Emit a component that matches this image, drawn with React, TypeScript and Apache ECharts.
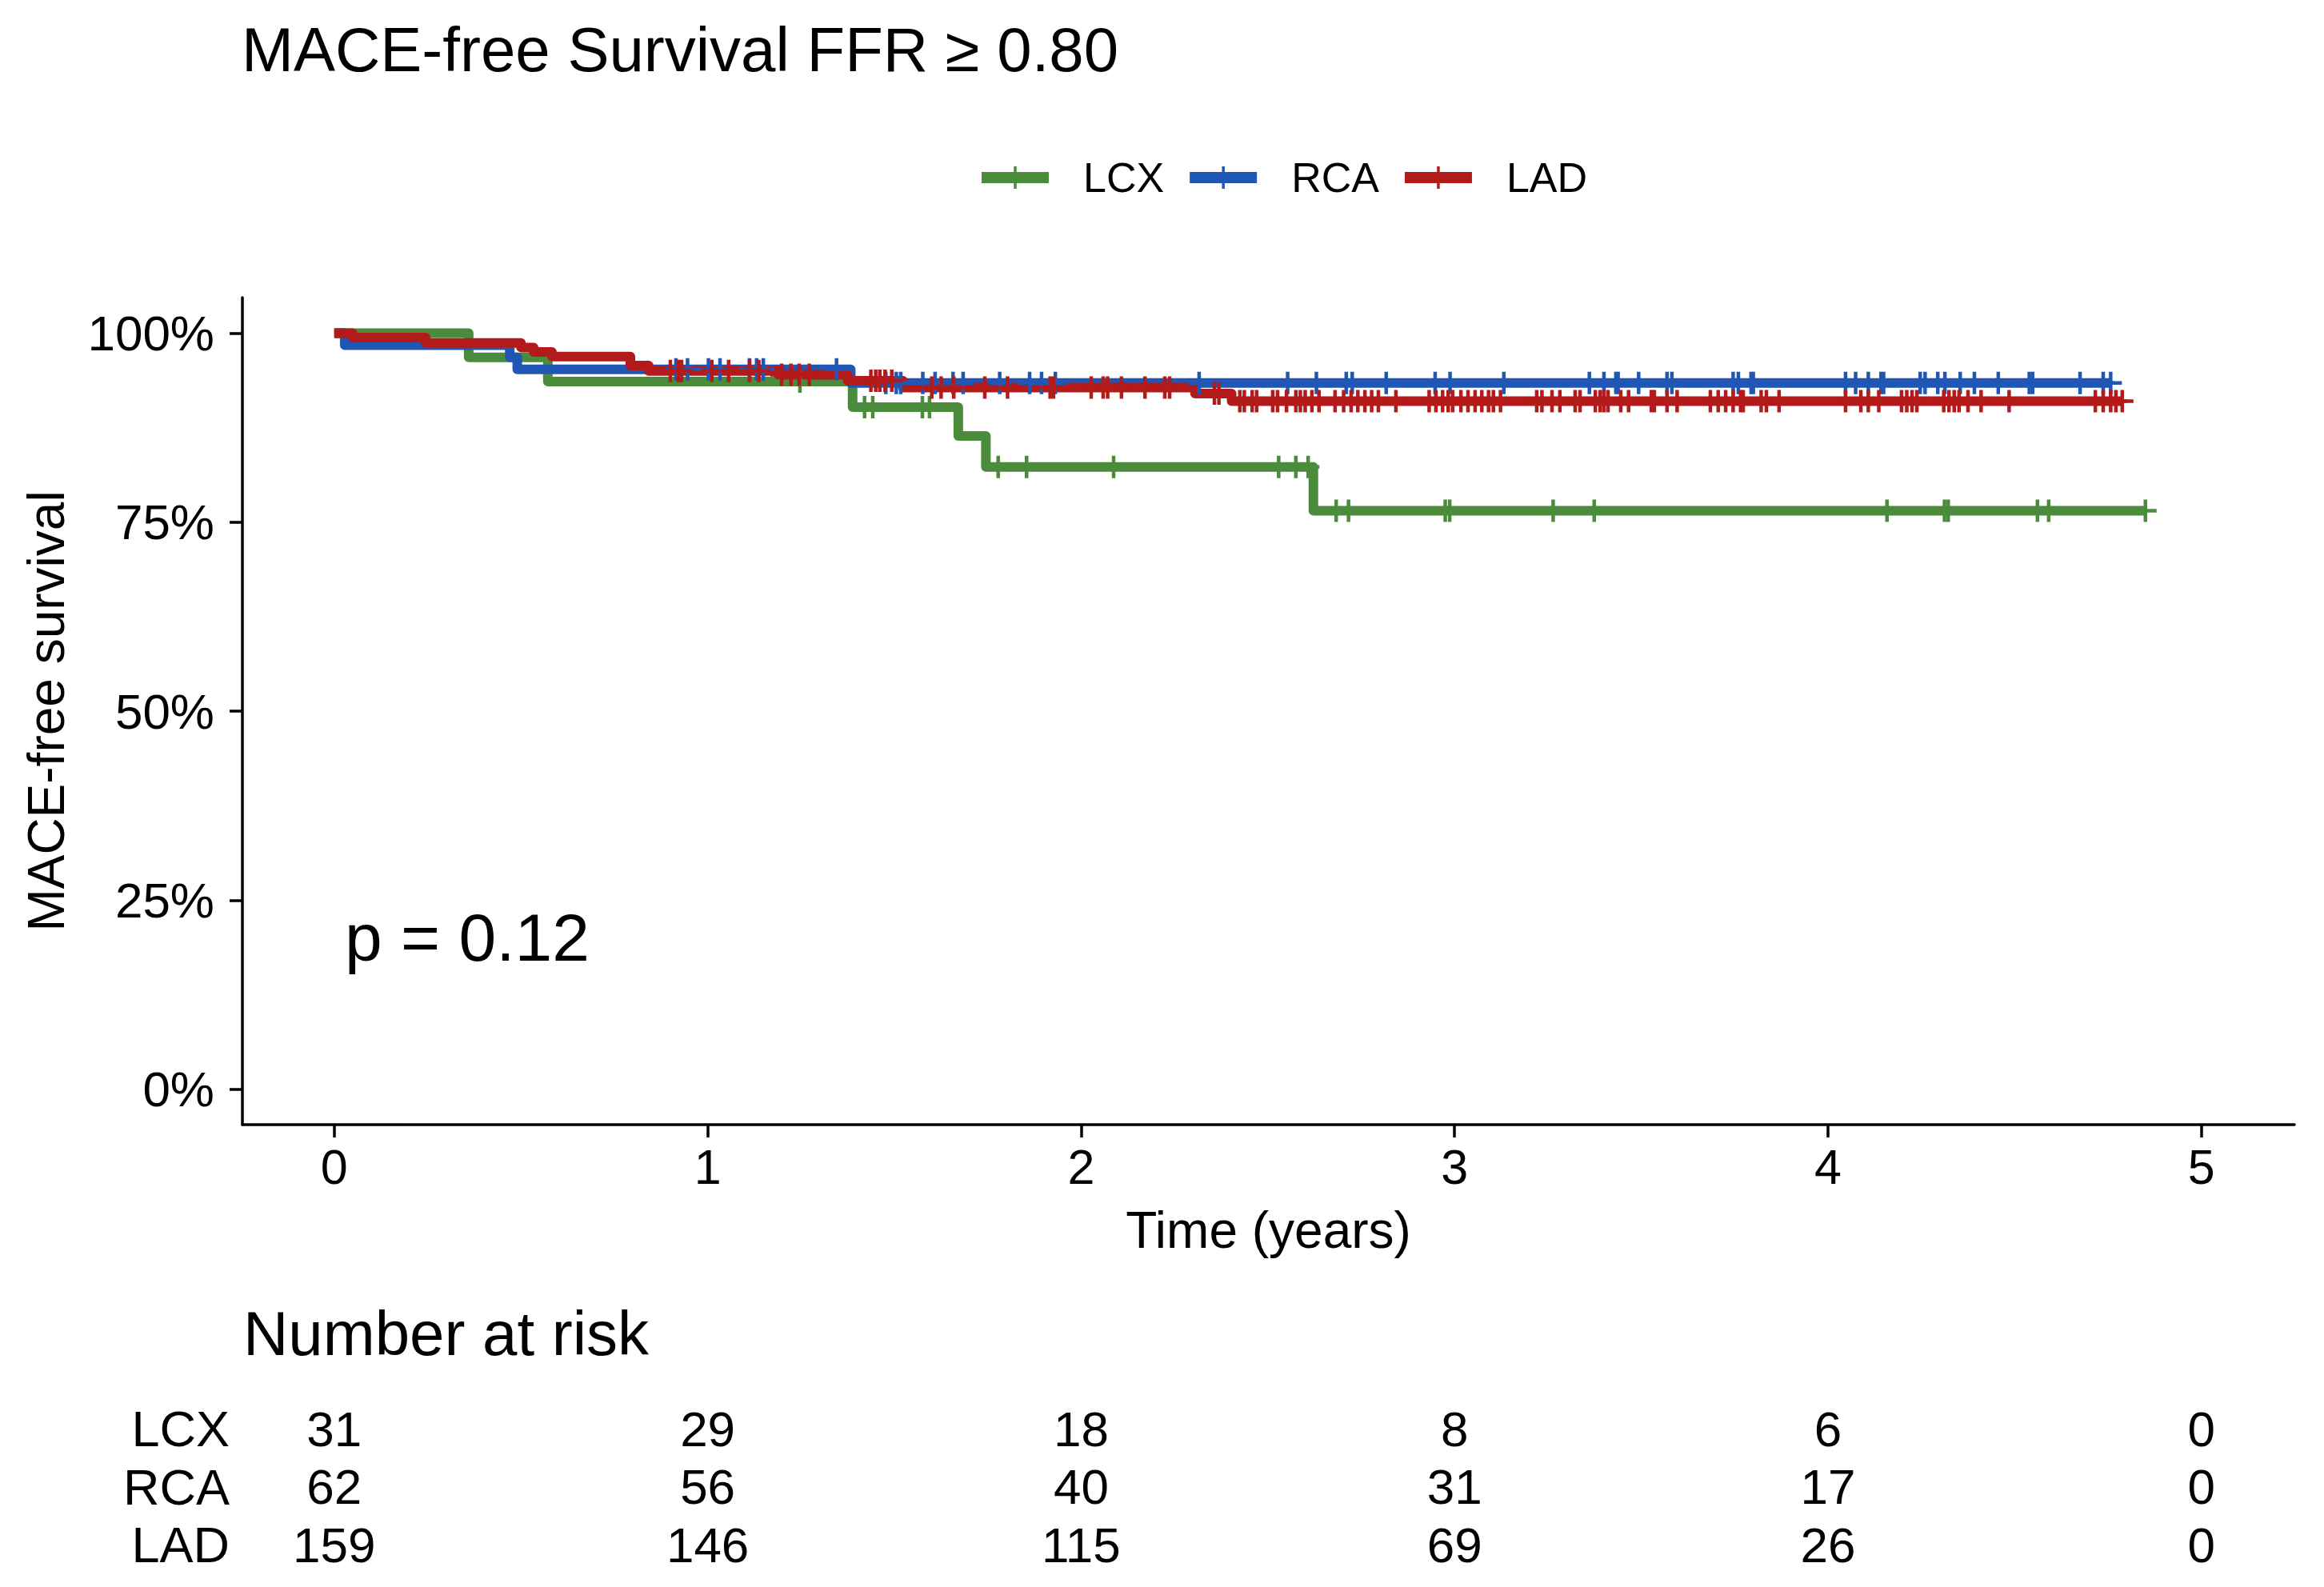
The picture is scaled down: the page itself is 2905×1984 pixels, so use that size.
import React, { useEffect, useRef } from "react";
import * as echarts from "echarts";

const FONT = '"Liberation Sans", Arial, Helvetica, sans-serif';

const GROUPS = ["LCX", "RCA", "LAD"];
const COLORS = ["#4A8C3B", "#2057B5", "#B31B1B"];

// Kaplan-Meier step curves (time in years, survival proportion)
const lcxTimes = [0, 0.36, 0.572, 1.388, 1.671, 1.745, 2.622, 4.85];
const lcxSurv = [1, 0.968, 0.936, 0.902, 0.864, 0.823, 0.765, 0.765];
const rcaTimes = [0, 0.028, 0.47, 0.49, 1.383, 4.757];
const rcaSurv = [1, 0.984, 0.968, 0.952, 0.934, 0.934];
const ladTimes = [0, 0.049, 0.245, 0.5, 0.534, 0.583, 0.793, 0.842, 1.19, 1.375, 1.523, 2.305, 2.403, 4.788];
const ladSurv = [1, 0.994, 0.987, 0.981, 0.975, 0.969, 0.957, 0.95, 0.945, 0.937, 0.928, 0.92, 0.91, 0.91];

// censoring times
const lcxCensor = [1.247, 1.42, 1.442, 1.575, 1.594, 1.778, 1.854, 2.087, 2.529, 2.575, 2.608, 2.683, 2.716, 2.975, 2.987, 3.264, 3.374, 4.158, 4.312, 4.322, 4.561, 4.591, 4.85];
const rcaCensor = [0.915, 0.946, 1.002, 1.033, 1.112, 1.131, 1.149, 1.345, 1.477, 1.505, 1.517, 1.576, 1.609, 1.657, 1.684, 1.782, 1.862, 1.894, 1.931, 2.316, 2.553, 2.63, 2.71, 2.726, 2.817, 2.948, 2.988, 3.132, 3.361, 3.4, 3.432, 3.438, 3.493, 3.569, 3.582, 3.746, 3.76, 3.794, 3.8, 4.047, 4.074, 4.108, 4.142, 4.149, 4.247, 4.26, 4.294, 4.313, 4.354, 4.392, 4.456, 4.539, 4.548, 4.675, 4.737, 4.757];
const ladCensor = [0.9, 0.921, 0.93, 1.011, 1.056, 1.112, 1.137, 1.198, 1.223, 1.245, 1.272, 1.437, 1.45, 1.461, 1.475, 1.493, 1.6, 1.625, 1.659, 1.742, 1.803, 1.917, 1.926, 2.027, 2.059, 2.071, 2.108, 2.171, 2.224, 2.237, 2.357, 2.369, 2.425, 2.437, 2.458, 2.47, 2.513, 2.526, 2.55, 2.575, 2.587, 2.6, 2.618, 2.637, 2.68, 2.703, 2.723, 2.741, 2.76, 2.778, 2.796, 2.843, 2.932, 2.95, 2.968, 2.983, 2.995, 3.017, 3.036, 3.055, 3.073, 3.091, 3.104, 3.123, 3.22, 3.234, 3.261, 3.282, 3.323, 3.336, 3.377, 3.39, 3.4, 3.411, 3.445, 3.466, 3.527, 3.535, 3.569, 3.596, 3.685, 3.706, 3.726, 3.746, 3.766, 3.773, 3.821, 3.835, 3.869, 4.047, 4.088, 4.108, 4.136, 4.197, 4.211, 4.225, 4.238, 4.31, 4.324, 4.338, 4.351, 4.375, 4.41, 4.485, 4.716, 4.737, 4.757, 4.771, 4.788];

// number at risk table
const riskTimes = [0, 1, 2, 3, 4, 5];
const lcxRisk = [31, 29, 18, 8, 6, 0];
const rcaRisk = [62, 56, 40, 31, 17, 0];
const ladRisk = [159, 146, 115, 69, 26, 0];

const xTicks = [0, 1, 2, 3, 4, 5];
const yTicks = [0, 0.25, 0.5, 0.75, 1];

const X_MIN = -0.246;
const X_MAX = 5.249;
const Y_MIN = -0.047;
const Y_MAX = 1.047;

const PLUS = "path://M0,11.75h28v4.5h-28z M11.75,0h4.5v28h-4.5z";
const LEG_ICON = "path://M0,7h84v14h-84z M40.25,0h3.5v28h-3.5z";

function survAt(times: number[], surv: number[], t: number): number {
  let s = surv[0];
  for (let i = 0; i < times.length; i++) {
    if (times[i] <= t) s = surv[i];
  }
  return s;
}

export default function App() {
  const ref = useRef<HTMLDivElement>(null);

  useEffect(() => {
    if (!ref.current) return;
    const chart = echarts.init(ref.current, undefined, { renderer: "svg" });

    const curves = [
      { times: lcxTimes, surv: lcxSurv, censor: lcxCensor },
      { times: rcaTimes, surv: rcaSurv, censor: rcaCensor },
      { times: ladTimes, surv: ladSurv, censor: ladCensor },
    ];
    const risks = [lcxRisk, rcaRisk, ladRisk];

    const lineSeries = curves.map((c, i) => ({
      type: "line",
      name: GROUPS[i],
      xAxisIndex: 0,
      yAxisIndex: 0,
      step: "end",
      symbol: "none",
      showSymbol: false,
      data: c.times.map((t, j) => [t, c.surv[j]]),
      lineStyle: { width: 12, color: COLORS[i], join: "round", cap: "butt" },
      itemStyle: { color: COLORS[i] },
      z: 2,
      silent: true,
    }));

    const censorSeries = curves.map((c, i) => ({
      type: "scatter",
      name: GROUPS[i] + " censored",
      xAxisIndex: 0,
      yAxisIndex: 0,
      symbol: PLUS,
      symbolSize: 28,
      data: c.censor.map((t) => [t, survAt(c.times, c.surv, t)]),
      itemStyle: { color: COLORS[i], opacity: 1 },
      z: 3,
      silent: true,
    }));

    const riskData: any[] = [];
    risks.forEach((r, gi) => {
      r.forEach((n, ti) => riskData.push([riskTimes[ti], gi, n]));
    });

    const riskSeries = {
      type: "scatter",
      name: "risk",
      xAxisIndex: 1,
      yAxisIndex: 1,
      symbolSize: 1,
      itemStyle: { color: "rgba(0,0,0,0)", opacity: 1 },
      data: riskData,
      label: {
        show: true,
        position: "inside",
        formatter: (p: any) => String(p.value[2]),
        fontSize: 62,
        fontFamily: FONT,
        color: "#000",
        opacity: 1,
      },
      silent: true,
    };

    const option: any = {
      animation: false,
      backgroundColor: "#fff",
      textStyle: { fontFamily: FONT },
      legend: {
        data: GROUPS.map((g) => ({ name: g, icon: LEG_ICON })),
        left: 1222,
        top: 187,
        itemWidth: 84,
        itemHeight: 28,
        itemGap: 32,
        selectedMode: false,
        itemStyle: { borderWidth: 0 },
        lineStyle: { width: 0 },
        textStyle: {
          fontSize: 52,
          color: "#000",
          fontFamily: FONT,
          padding: [0, 0, 0, 38],
          lineHeight: 60,
        },
      },
      grid: [
        { left: 303, top: 372, width: 2565, height: 1034 },
        { left: 303, top: 1749.75, width: 2565, height: 217.5 },
      ],
      xAxis: [
        {
          type: "value",
          gridIndex: 0,
          min: X_MIN,
          max: X_MAX,
          axisLine: { show: true, onZero: false, lineStyle: { color: "#000", width: 3.5 } },
          axisTick: { show: true, length: 16, customValues: xTicks, lineStyle: { color: "#000", width: 3.5 } },
          axisLabel: { show: true, customValues: xTicks, fontSize: 61, color: "#000", margin: 22, fontFamily: FONT },
          splitLine: { show: false },
          name: "Time (years)",
          nameLocation: "middle",
          nameGap: 100,
          nameTextStyle: { fontSize: 64, color: "#000", fontFamily: FONT },
        },
        {
          type: "value",
          gridIndex: 1,
          min: X_MIN,
          max: X_MAX,
          show: false,
        },
      ],
      yAxis: [
        {
          type: "value",
          gridIndex: 0,
          min: Y_MIN,
          max: Y_MAX,
          axisLine: { show: true, onZero: false, lineStyle: { color: "#000", width: 3.5 } },
          axisTick: { show: true, length: 16, customValues: yTicks, lineStyle: { color: "#000", width: 3.5 } },
          axisLabel: {
            show: true,
            customValues: yTicks,
            formatter: (v: number) => Math.round(v * 100) + "%",
            fontSize: 62,
            color: "#000",
            margin: 35,
            fontFamily: FONT,
          },
          splitLine: { show: false },
          name: "MACE-free survival",
          nameLocation: "middle",
          nameGap: 213,
          nameTextStyle: { fontSize: 64, color: "#000", fontFamily: FONT },
        },
        {
          type: "category",
          gridIndex: 1,
          data: GROUPS,
          inverse: true,
          axisLine: { show: false },
          axisTick: { show: false },
          splitLine: { show: false },
          axisLabel: { interval: 0, fontSize: 63, color: "#000", margin: 16, fontFamily: FONT },
        },
      ],
      graphic: [
        {
          type: "text",
          x: 302,
          y: 61.5,
          style: {
            text: "MACE-free Survival FFR \u2265 0.80",
            fontSize: 78,
            fontFamily: FONT,
            fill: "#000",
            verticalAlign: "middle",
            textVerticalAlign: "middle",
          },
        },
        {
          type: "text",
          x: 431,
          y: 1171.5,
          style: {
            text: "p = 0.12",
            fontSize: 84,
            fontFamily: FONT,
            fill: "#000",
            verticalAlign: "middle",
            textVerticalAlign: "middle",
          },
        },
        {
          type: "text",
          x: 304,
          y: 1667,
          style: {
            text: "Number at risk",
            fontSize: 78,
            fontFamily: FONT,
            fill: "#000",
            verticalAlign: "middle",
            textVerticalAlign: "middle",
          },
        },
      ],
      series: [...lineSeries, ...censorSeries, riskSeries],
    };

    chart.setOption(option);
    return () => chart.dispose();
  }, []);

  return (
    <div
      ref={ref}
      style={{ position: "absolute", left: 0, top: 0, width: 2905, height: 1984, background: "#fff" }}
    />
  );
}
